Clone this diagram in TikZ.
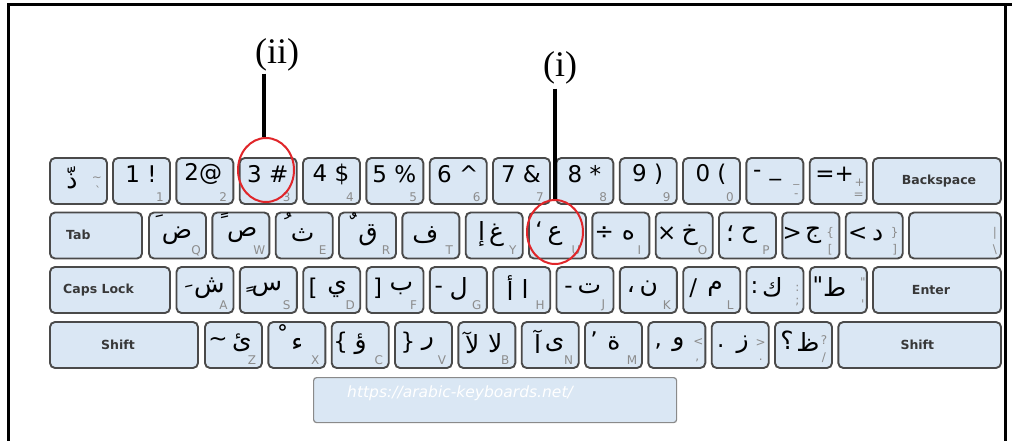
\documentclass[tikz,border=0pt]{standalone}
\usepackage{fontspec}
\setmainfont{DejaVu Sans}
\newfontfamily\arabicfont[Script=Arabic]{DejaVu Sans}
\newfontfamily\calloutfont{Liberation Serif}
\TeXXeTstate=1
\usetikzlibrary{calc,shapes.geometric}
\definecolor{keyface}{HTML}{DAE7F4}
\definecolor{keyedge}{HTML}{4A4A4A}
\definecolor{legend}{HTML}{8C8C8C}
\definecolor{fnlabel}{HTML}{383838}
\definecolor{ringred}{HTML}{E0262A}
\definecolor{urledge}{HTML}{8A8A8A}
% a key cap: name, left x, width, top y
\newcommand\keycap[4]{\node[keybox, minimum width=#3, minimum height=46, anchor=north west] (#1) at (#2,#4) {};}
% a legend on a key: [style], key name, offset from its top-left corner, text
\newcommand\kl[4][ar]{\node[#1] at ($(#2.north west)+#3$) {#4};}
\newcommand\nbmark[1]{^^^^00a0#1}
\tikzset{
  keybox/.style={draw=keyedge, fill=keyface, line width=1.9pt, rounded corners=5pt, inner sep=0pt, outer sep=0pt},
  ar/.style={font=\arabicfont\fontsize{25}{28}\selectfont, inner sep=0pt, execute at begin node=\beginR, execute at end node=\endR},
  lat/.style={font=\fontsize{23}{26}\selectfont, inner sep=0pt},
  sub/.style={font=\fontsize{12}{13}\selectfont, text=legend, inner sep=0pt},
  fn/.style={font=\bfseries\fontsize{12.5}{14}\selectfont, text=fnlabel, inner sep=0pt},
  callout/.style={font=\calloutfont\fontsize{36}{40}\selectfont, inner sep=0pt},
  ring/.style={draw=ringred, line width=2pt, ellipse, inner sep=0pt},
  stem/.style={line width=4pt}
}
\begin{document}
\begin{tikzpicture}[x=1pt,y=-1pt]
\useasboundingbox (0,0) rectangle (1012,441);
\fill[white] (0,0) rectangle (1012,441);
\draw[line width=3pt] (8,441) -- (8,5) -- (1012,5);
\draw[line width=3pt] (1005,5) -- (1005,441);

% ---------- number row ----------
\keycap{kgrave}{50}{57}{158}
\kl{kgrave}{(22,20)}{ذّ}
\kl[sub]{kgrave}{(47,21)}{\textasciitilde}
\kl[sub]{kgrave}{(48,33)}{\textasciigrave}
\keycap{k1}{113}{57}{158}\kl[lat]{k1}{(28,16)}{1 !}\kl[sub]{k1}{(47,39)}{1}
\keycap{k2}{176.3}{57}{158}\kl[lat]{k2}{(27,16)}{2@}\kl[sub]{k2}{(47,39)}{2}
\keycap{k3}{239.7}{57}{158}\kl[lat]{k3}{(28,16)}{3 \#}\kl[sub]{k3}{(47,39)}{3}
\keycap{k4}{303}{57}{158}\kl[lat]{k4}{(28,16)}{4 \$}\kl[sub]{k4}{(47,39)}{4}
\keycap{k5}{366.3}{57}{158}\kl[lat]{k5}{(28,16)}{5 \%}\kl[sub]{k5}{(47,39)}{5}
\keycap{k6}{429.7}{57}{158}\kl[lat]{k6}{(28,16)}{6 \textasciicircum}\kl[sub]{k6}{(47,39)}{6}
\keycap{k7}{493}{57}{158}\kl[lat]{k7}{(28,16)}{7 \&}\kl[sub]{k7}{(47,39)}{7}
\keycap{k8}{556.3}{57}{158}\kl[lat]{k8}{(28,16)}{8 *}\kl[sub]{k8}{(47,39)}{8}
\keycap{k9}{619.7}{57}{158}\kl[lat]{k9}{(28,16)}{9 )}\kl[sub]{k9}{(47,39)}{9}
\keycap{k0}{683}{57}{158}\kl[lat]{k0}{(28,16)}{0 (}\kl[sub]{k0}{(47,39)}{0}
\keycap{kminus}{746.3}{57}{158}
\kl[lat]{kminus}{(11,16)}{-}\kl[lat]{kminus}{(29,20)}{\_}
\kl[sub]{kminus}{(50,26)}{\_}\kl[sub]{kminus}{(50,38)}{-}
\keycap{kequal}{809.7}{57}{158}
\kl[lat]{kequal}{(25,16)}{=+}
\kl[sub]{kequal}{(50,25)}{+}\kl[sub]{kequal}{(49,38)}{=}
\keycap{kbs}{873}{128}{158}\kl[fn]{kbs}{(66,23)}{Backspace}

% ---------- top letter row ----------
\keycap{ktab}{50}{92}{212.5}
\node[fn, anchor=west] at ($(ktab.north west)+(16,22)$) {Tab};
\keycap{kq}{149}{57}{212.5}\kl{kq}{(8,11)}{\nbmark{َ}}\kl{kq}{(28,23)}{ض}\kl[sub]{kq}{(47,38)}{Q}
\keycap{kw}{212.3}{57}{212.5}\kl{kw}{(10,11)}{\nbmark{ً}}\kl{kw}{(30,23)}{ص}\kl[sub]{kw}{(47,38)}{W}
\keycap{ke}{275.7}{57}{212.5}\kl{ke}{(10,11)}{\nbmark{ُ}}\kl{ke}{(27,23)}{ث}\kl[sub]{ke}{(47,38)}{E}
\keycap{kr}{339}{57}{212.5}\kl{kr}{(12,11)}{\nbmark{ٌ}}\kl{kr}{(29,23)}{ق}\kl[sub]{kr}{(47,38)}{R}
\keycap{kt}{402.3}{57}{212.5}\kl{kt}{(23,23)}{ف}\kl[sub]{kt}{(47,38)}{T}
\keycap{ky}{465.7}{57}{212.5}\kl{ky}{(16,22)}{إ}\kl{ky}{(31,23)}{غ}\kl[sub]{ky}{(47,38)}{Y}
\keycap{ku}{529}{57}{212.5}\kl[lat]{ku}{(10,18)}{‘}\kl{ku}{(26,24)}{ع}\kl[sub]{ku}{(47,38)}{U}
\keycap{ki}{592.3}{57}{212.5}\kl[lat]{ki}{(12,21)}{÷}\kl{ki}{(36,23)}{ه}\kl[sub]{ki}{(47,38)}{I}
\keycap{ko}{655.7}{57}{212.5}\kl[lat]{ko}{(11,21)}{×}\kl{ko}{(34,23)}{خ}\kl[sub]{ko}{(47,38)}{O}
\keycap{kp}{719}{57}{212.5}\kl{kp}{(11,21)}{؛}\kl{kp}{(30,23)}{ح}\kl[sub]{kp}{(47,38)}{P}
\keycap{klb}{782.3}{57}{212.5}\kl[lat]{klb}{(10,21)}{>}\kl{klb}{(31,23)}{ج}
\kl[sub]{klb}{(48,20)}{\{}\kl[sub]{klb}{(48,37)}{[}
\keycap{krb}{845.7}{57}{212.5}\kl[lat]{krb}{(12,21)}{<}\kl{krb}{(32,23)}{د}
\kl[sub]{krb}{(49,20)}{\}}\kl[sub]{krb}{(49,37)}{]}
\keycap{kbsl}{909}{92}{212.5}
\kl[sub]{kbsl}{(86,21)}{|}\kl[sub]{kbsl}{(86,37)}{\textbackslash}

% ---------- home row ----------
\keycap{kcaps}{50}{120}{267}
\node[fn, anchor=west] at ($(kcaps.north west)+(13,23)$) {Caps Lock};
\keycap{ka}{176.5}{57}{267}\kl{ka}{(10,19)}{\nbmark{ِ}}\kl{ka}{(33,21)}{ش}\kl[sub]{ka}{(47,38)}{A}
\keycap{ks}{239.8}{57}{267}\kl{ks}{(8,22)}{\nbmark{ٍ}}\kl{ks}{(27,22)}{س}\kl[sub]{ks}{(47,38)}{S}
\keycap{kd}{303.2}{57}{267}\kl[lat]{kd}{(10,21)}{[}\kl{kd}{(34,22)}{ي}\kl[sub]{kd}{(47,38)}{D}
\keycap{kf}{366.5}{57}{267}\kl[lat]{kf}{(11,21)}{]}\kl{kf}{(35,22)}{ب}\kl[sub]{kf}{(47,38)}{F}
\keycap{kg}{429.8}{57}{267}\kl[lat]{kg}{(9,23)}{-}\kl{kg}{(29,22)}{ل}\kl[sub]{kg}{(47,38)}{G}
\keycap{kh}{493.2}{57}{267}\kl{kh}{(17,21)}{أ}\kl{kh}{(32,22)}{ا}\kl[sub]{kh}{(47,38)}{H}
\keycap{kj}{556.5}{57}{267}\kl[lat]{kj}{(12,23)}{-}\kl{kj}{(33,22)}{ت}\kl[sub]{kj}{(47,38)}{J}
\keycap{kk}{619.8}{57}{267}\kl{kk}{(11,22)}{،}\kl{kk}{(29,22)}{ن}\kl[sub]{kk}{(47,38)}{K}
\keycap{kl}{683.2}{57}{267}\kl[lat]{kl}{(10,21)}{/}\kl{kl}{(32,22)}{م}\kl[sub]{kl}{(47,38)}{L}
\keycap{ksemi}{746.5}{57}{267}\kl[lat]{ksemi}{(8,21)}{:}\kl{ksemi}{(26,20)}{ك}
\kl[sub]{ksemi}{(51,21)}{:}\kl[sub]{ksemi}{(51,35)}{;}
\keycap{kquote}{809.8}{57}{267}\kl[lat]{kquote}{(8,18)}{\textquotedbl}\kl{kquote}{(25,20)}{ط}
\kl[sub]{kquote}{(53,15)}{\textquotedbl}\kl[sub]{kquote}{(53,37)}{\textquotesingle}
\keycap{kenter}{873}{128}{267}\kl[fn]{kenter}{(58,23)}{Enter}

% ---------- bottom row ----------
\keycap{kshl}{50}{148}{322}\kl[fn]{kshl}{(68,23)}{Shift}
\keycap{kz}{205}{57}{322}\kl[lat]{kz}{(13,20)}{\textasciitilde}\kl{kz}{(37,21)}{ئ}\kl[sub]{kz}{(47,38)}{Z}
\keycap{kx}{268.3}{57}{322}\kl{kx}{(12,14)}{\nbmark{ْ}}\kl{kx}{(29,22)}{ء}\kl[sub]{kx}{(47,38)}{X}
\keycap{kc}{331.7}{57}{322}\kl[lat]{kc}{(9,21)}{\{}\kl{kc}{(29,22)}{ؤ}\kl[sub]{kc}{(47,38)}{C}
\keycap{kv}{395}{57}{322}\kl[lat]{kv}{(13,21)}{\}}\kl{kv}{(33,22)}{ر}\kl[sub]{kv}{(47,38)}{V}
\keycap{kb}{458.3}{57}{322}\kl{kb}{(14,21)}{لآ}\kl{kb}{(37,21)}{لا}\kl[sub]{kb}{(47,38)}{B}
\keycap{kn}{521.7}{57}{322}\kl{kn}{(16,20)}{آ}\kl{kn}{(33,23)}{ى}\kl[sub]{kn}{(47,38)}{N}
\keycap{km}{585}{57}{322}\kl[lat]{km}{(9,18)}{’}\kl{km}{(29,21)}{ة}\kl[sub]{km}{(47,38)}{M}
\keycap{kcomma}{648.3}{57}{322}\kl[lat]{kcomma}{(10,24)}{,}\kl{kcomma}{(30,23)}{و}
\kl[sub]{kcomma}{(50,20)}{<}\kl[sub]{kcomma}{(49,38)}{,}
\keycap{kdot}{711.7}{57}{322}\kl[lat]{kdot}{(9,24)}{.}\kl{kdot}{(31,23)}{ز}
\kl[sub]{kdot}{(49,21)}{>}\kl[sub]{kdot}{(49,38)}{.}
\keycap{kslash}{775}{57}{322}\kl{kslash}{(12,18)}{؟}\kl{kslash}{(33,20)}{ظ}
\kl[sub]{kslash}{(49,18)}{?}\kl[sub]{kslash}{(49,36)}{/}
\keycap{kshr}{838.3}{162.7}{322}\kl[fn]{kshr}{(79,23)}{Shift}

% ---------- address bar ----------
\node[draw=urledge, fill=keyface, line width=1.2pt, rounded corners=3pt, minimum width=363, minimum height=45, anchor=north west] (url) at (313,377) {};
\node[font=\itshape\fontsize{15.5}{17}\selectfont, text=white, inner sep=0pt] at ($(url.north west)+(147,16)$) {https://arabic-keyboards.net/};

% ---------- callouts ----------
\node[callout] (lab2) at (277,55) {(ii)};
\node[callout] (lab1) at (560,68) {(i)};
\node[ring, minimum width=56, minimum height=64] (ring2) at (266,170) {};
\node[ring, minimum width=56, minimum height=64] (ring1) at (555,232) {};
\draw[stem] ([xshift=-13pt,yshift=-2pt]lab2.south) -- ([xshift=-2pt]ring2.north);
\draw[stem] ([xshift=-5pt,yshift=-4pt]lab1.south) -- (ring1.north);
\end{tikzpicture}
\end{document}
